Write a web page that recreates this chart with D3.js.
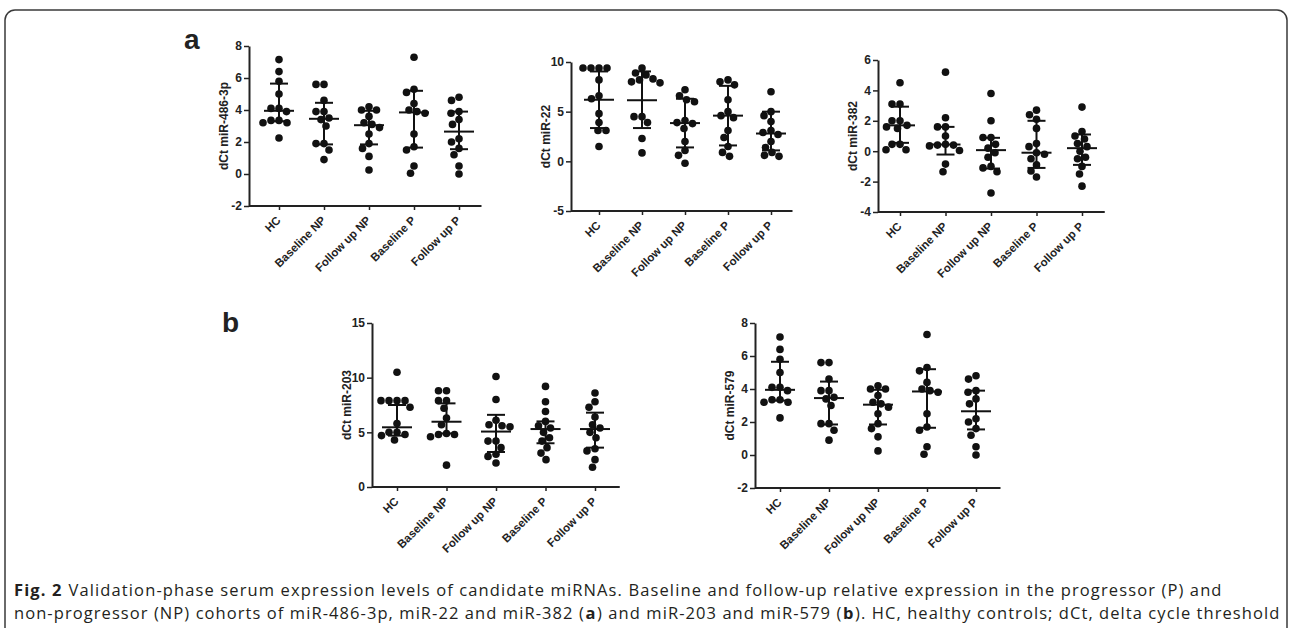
<!doctype html>
<html lang="en">
  <head>
    <meta charset="UTF-8" />
    <title>Fig. 2 miRNA validation</title>
    <script src="https://d3js.org/d3.v7.min.js"></script>
    <style>
      html,
      body {
        margin: 0;
        padding: 0;
        background: #fff;
        overflow: hidden;
      }
      svg {
        display: block;
      }
      .chart text {
        font-family: "Liberation Sans", Arial, sans-serif;
        font-weight: bold;
        fill: #222;
      }
      .caption text {
        font-family: "Open Sans", sans-serif;
        font-size: 16.5px;
        fill: #231f20;
        white-space: pre;
      }
    </style>
  </head>
  <body>
    <svg id="fig" width="1292" height="628"></svg>

    <script>
      const categories = ["HC", "Baseline NP", "Follow up NP", "Baseline P", "Follow up P"];

      // miR-486-3p (panel a, left) - same plot is reused for miR-579 in panel b
      const mir486Values = [
        [7.15, 6.4, 5.8, 5.0, 4.1, 4.1, 3.9, 3.35, 3.35, 3.2, 3.2, 2.25],
        [5.6, 5.6, 4.6, 3.9, 3.9, 3.5, 3.4, 3.0, 1.9, 1.9, 1.5, 0.9],
        [4.2, 4.0, 4.0, 3.6, 3.2, 3.1, 2.9, 2.5, 1.9, 1.6, 1.1, 0.25],
        [7.3, 5.3, 5.1, 4.4, 4.0, 3.9, 3.8, 2.5, 1.7, 1.5, 0.5, 0.05],
        [4.8, 4.6, 3.9, 3.8, 3.4, 3.1, 2.2, 2.0, 1.6, 1.2, 0.5, 0.0],
      ];
      const mir486Center = [3.95, 3.45, 3.05, 3.85, 2.65];
      const mir486Low = [3.3, 1.85, 1.85, 1.65, 1.55];
      const mir486High = [5.65, 4.45, 3.95, 5.2, 3.9];
      const mir486Ticks = [-2, 0, 2, 4, 6, 8];

      // miR-22
      const mir22Values = [
        [9.4, 9.4, 9.4, 9.4, 8.2, 6.6, 6.3, 4.8, 3.9, 3.1, 3.1, 1.5],
        [9.4, 8.9, 8.7, 8.3, 8.2, 8.0, 7.9, 4.5, 4.5, 3.9, 2.3, 0.85],
        [7.2, 6.6, 6.2, 6.0, 4.1, 3.9, 3.8, 3.3, 2.0, 1.1, 0.6, -0.2],
        [8.2, 8.0, 7.7, 6.2, 5.0, 4.6, 4.4, 3.1, 2.4, 1.5, 0.9, 0.5],
        [7.0, 5.0, 4.6, 4.0, 3.1, 2.9, 2.7, 2.0, 1.4, 0.9, 0.6, 0.5],
      ];
      const mir22Center = [6.2, 6.15, 3.85, 4.6, 2.8];
      const mir22Low = [3.35, 3.35, 1.4, 1.6, 1.1];
      const mir22High = [9.05, 9.05, 6.3, 7.6, 5.0];
      const mir22Ticks = [-5, 0, 5, 10];

      // miR-382
      const mir382Values = [
        [4.5, 3.1, 3.1, 2.0, 2.0, 1.7, 1.6, 1.5, 0.45, 0.45, 0.1, 0.1],
        [5.2, 2.2, 1.6, 1.6, 1.0, 0.45, 0.4, 0.4, 0.35, 0.05, -0.85, -1.35],
        [3.8, 2.0, 0.9, 0.9, 0.45, 0.2, -0.1, -0.4, -1.0, -1.1, -1.35, -2.75],
        [2.7, 2.4, 2.1, 1.5, 0.5, 0.3, -0.1, -0.2, -0.5, -0.9, -1.3, -1.7],
        [2.9, 1.3, 1.0, 0.8, 0.5, 0.3, 0.0, -0.4, -0.5, -1.0, -1.5, -2.3],
      ];
      const mir382Center = [1.7, 0.44, 0.07, -0.1, 0.2];
      const mir382Low = [0.55, -0.22, -1.14, -1.1, -0.9];
      const mir382High = [2.93, 1.6, 0.88, 2.0, 1.1];
      const mir382Ticks = [-4, -2, 0, 2, 4, 6];

      // miR-203
      const mir203Values = [
        [10.5, 7.9, 7.9, 7.9, 7.9, 7.3, 5.8, 5.0, 5.0, 4.8, 4.7, 4.3],
        [8.8, 8.8, 7.9, 7.9, 7.2, 6.3, 5.7, 4.9, 4.8, 4.8, 4.6, 2.0],
        [10.1, 8.0, 6.1, 5.7, 5.6, 5.5, 4.2, 4.2, 3.6, 3.0, 2.8, 2.2],
        [9.2, 7.8, 6.9, 6.0, 5.6, 5.4, 5.0, 4.5, 4.2, 3.6, 3.1, 2.5],
        [8.6, 7.8, 7.3, 6.4, 5.7, 5.4, 5.0, 4.5, 3.5, 3.3, 2.5, 1.8],
      ];
      const mir203Center = [5.46, 5.97, 5.07, 5.3, 5.3];
      const mir203Low = [4.7, 4.9, 3.2, 4.0, 3.6];
      const mir203High = [7.5, 7.65, 6.6, 6.0, 6.8];
      const mir203Ticks = [0, 5, 10, 15];

      // miR-579
      const mir579Values = mir486Values;
      const mir579Center = mir486Center;
      const mir579Low = mir486Low;
      const mir579High = mir486High;
      const mir579Ticks = mir486Ticks;

      const svg = d3.select("#fig");

      // outer frame of the figure box
      svg.append("rect")
        .attr("x", 5).attr("y", 10)
        .attr("width", 1282).attr("height", 660)
        .attr("rx", 10)
        .attr("fill", "none")
        .attr("stroke", "#3a3a3a")
        .attr("stroke-width", 1.5);

      const chart = svg.append("g").attr("class", "chart");

      chart.append("text").attr("x", 184).attr("y", 49).style("font-size", "28px").text("a");
      chart.append("text").attr("x", 222).attr("y", 332).style("font-size", "28px").text("b");

      const panels = [
        { values: mir486Values, center: mir486Center, low: mir486Low, high: mir486High, ticks: mir486Ticks,
          label: "dCt miR-486-3p", left: 249, top: 46, bottom: 206, first: 279, step: 45 },
        { values: mir22Values, center: mir22Center, low: mir22Low, high: mir22High, ticks: mir22Ticks,
          label: "dCt miR-22", left: 571, top: 62, bottom: 211, first: 599, step: 43 },
        { values: mir382Values, center: mir382Center, low: mir382Low, high: mir382High, ticks: mir382Ticks,
          label: "dCt miR-382", left: 878, top: 60, bottom: 212, first: 900, step: 45.5 },
        { values: mir203Values, center: mir203Center, low: mir203Low, high: mir203High, ticks: mir203Ticks,
          label: "dCt miR-203", left: 372, top: 323, bottom: 487, first: 397, step: 49.5 },
        { values: mir579Values, center: mir579Center, low: mir579Low, high: mir579High, ticks: mir579Ticks,
          label: "dCt miR-579", left: 755, top: 323, bottom: 488, first: 780, step: 49 },
      ];

      const r = 3.8;

      // simple beeswarm: push each dot sideways until it stops overlapping
      function swarm(vals, y) {
        const placed = [];
        vals.map((v) => ({ v, py: y(v) }))
          .sort((a, b) => a.py - b.py)
          .forEach((p) => {
            for (let k = 0; k < 400; k++) {
              const dx = k === 0 ? 0 : k % 2 ? -(k + 1) / 4 : k / 4;
              const hit = placed.some((q) => (q.dx - dx) ** 2 + (q.py - p.py) ** 2 < (2 * r + 0.4) ** 2);
              if (!hit) {
                p.dx = dx;
                placed.push(p);
                break;
              }
            }
          });
        return placed;
      }

      panels.forEach(drawPanel);

      function drawPanel(p) {
        const n = categories.length;
        const last = p.first + p.step * (n - 1);
        const right = last + p.step * 0.5;

        const x = d3.scalePoint().domain(categories).range([p.first, last]);
        const y = d3.scaleLinear().domain([p.ticks[0], p.ticks[p.ticks.length - 1]]).range([p.bottom, p.top]);

        const g = chart.append("g");

        // y axis (plain hyphen for negatives, like the original)
        const ya = g.append("g")
          .attr("transform", `translate(${p.left},0)`)
          .call(d3.axisLeft(y).tickValues(p.ticks).tickFormat((d) => String(d)).tickSize(5).tickSizeOuter(0).tickPadding(2));
        ya.select(".domain").attr("stroke", "#222").attr("stroke-width", 2);
        ya.selectAll(".tick line").attr("stroke", "#222").attr("stroke-width", 1.5);
        ya.selectAll(".tick text").style("font-size", "12px").attr("fill", "#222");

        // x axis
        const xa = g.append("g")
          .attr("transform", `translate(0,${p.bottom})`)
          .call(d3.axisBottom(x).tickSize(4).tickSizeOuter(0));
        xa.select(".domain")
          .attr("d", `M${p.left},0H${right}`)
          .attr("stroke", "#222")
          .attr("stroke-width", 2);
        xa.selectAll(".tick line").attr("stroke", "#222").attr("stroke-width", 1.5);
        xa.selectAll(".tick text")
          .attr("x", 0).attr("y", 0).attr("dy", 0)
          .attr("text-anchor", "end")
          .attr("transform", "translate(2,15) rotate(-45)")
          .style("font-size", "11.5px")
          .attr("fill", "#222");

        // y label
        g.append("text")
          .attr("transform", `translate(${p.left - 21},${(p.top + p.bottom) / 2}) rotate(-90)`)
          .attr("text-anchor", "middle")
          .style("font-size", "12px")
          .text(p.label);

        categories.forEach((c, i) => {
          const cx = x(c);
          g.selectAll(null)
            .data(swarm(p.values[i], y))
            .enter()
            .append("circle")
            .attr("cx", (d) => cx + d.dx)
            .attr("cy", (d) => d.py)
            .attr("r", r)
            .attr("fill", "#111");

          // centre line with whiskers
          const bar = g.append("g").attr("stroke", "#111").attr("stroke-width", 2);
          bar.append("line").attr("x1", cx).attr("x2", cx).attr("y1", y(p.high[i])).attr("y2", y(p.low[i]));
          bar.append("line").attr("x1", cx - 15).attr("x2", cx + 15).attr("y1", y(p.center[i])).attr("y2", y(p.center[i]));
          bar.append("line").attr("x1", cx - 9).attr("x2", cx + 9).attr("y1", y(p.high[i])).attr("y2", y(p.high[i]));
          bar.append("line").attr("x1", cx - 9).attr("x2", cx + 9).attr("y1", y(p.low[i])).attr("y2", y(p.low[i]));
        });
      }

      // caption: each bold/regular run is its own text, laid out left to right,
      // with letter spacing widened so the line ends where the original does
      const caption = svg.append("g").attr("class", "caption");

      function captionLine(segs, y, width) {
        const nodes = segs.map((s) =>
          caption.append("text").attr("y", y).attr("font-weight", s[1] ? "bold" : null).text(s[0])
        );
        const natural = d3.sum(nodes, (t) => t.node().getComputedTextLength());
        const chars = d3.sum(segs, (s) => s[0].length);
        const ls = (width - natural) / chars;
        let x = 14;
        nodes.forEach((t) => {
          t.style("letter-spacing", `${ls}px`).attr("x", x);
          x += t.node().getComputedTextLength() + 0.6;
        });
      }

      captionLine(
        [
          ["Fig. 2", true],
          [" Validation-phase serum expression levels of candidate miRNAs. Baseline and follow-up relative expression in the progressor (P) and", false],
        ],
        596,
        1208
      );
      captionLine(
        [
          ["non-progressor (NP) cohorts of miR-486-3p, miR-22 and miR-382 (", false],
          ["a", true],
          [") and miR-203 and miR-579 (", false],
          ["b", true],
          ["). HC, healthy controls; dCt, delta cycle threshold", false],
        ],
        619,
        1264
      );
    </script>
  </body>
</html>
